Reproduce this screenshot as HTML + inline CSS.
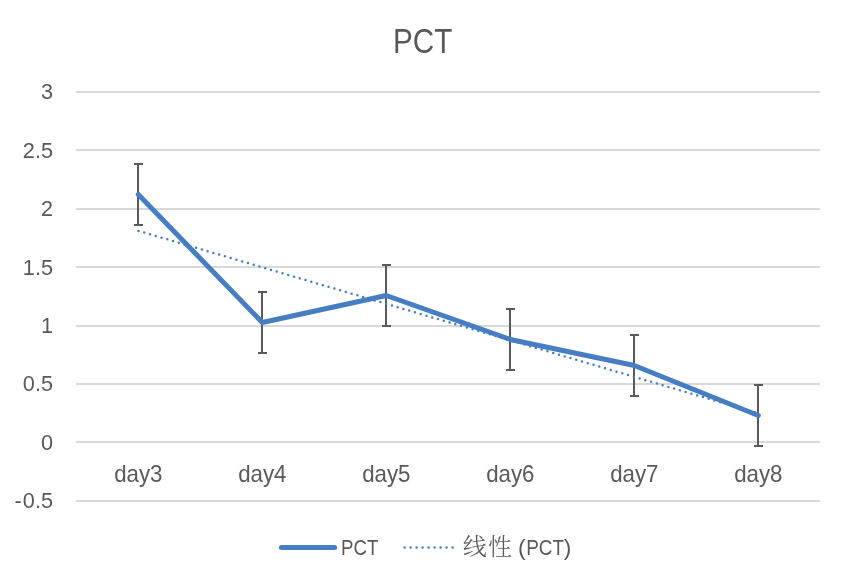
<!DOCTYPE html>
<html lang="zh"><head><meta charset="utf-8"><title>PCT</title>
<style>html,body{margin:0;padding:0;background:#fff}svg{display:block}.t{will-change:transform}text{font-family:"Liberation Sans","Noto Sans CJK SC",sans-serif;fill:#595959}</style></head><body>
<svg class="t" width="843" height="582" viewBox="0 0 843 582">
<rect width="843" height="582" fill="#fff"/>
<g fill="#d9d9d9">
<rect x="76" y="91" width="744" height="2"/>
<rect x="76" y="149" width="744" height="2"/>
<rect x="76" y="208" width="744" height="2"/>
<rect x="76" y="266" width="744" height="2"/>
<rect x="76" y="325" width="744" height="2"/>
<rect x="76" y="383" width="744" height="2"/>
<rect x="76" y="441" width="744" height="2"/>
<rect x="76" y="500" width="744" height="2"/>
</g>
<text x="422.7" y="52.7" font-size="35.7" text-anchor="middle" textLength="59.3" lengthAdjust="spacingAndGlyphs">PCT</text>
<g font-size="22.7" text-anchor="end">
<text transform="translate(53 98.7) scale(0.955 1)">3</text>
<text transform="translate(53 157.6) scale(0.955 1)">2.5</text>
<text transform="translate(53 215.7) scale(0.955 1)">2</text>
<text transform="translate(53 274.6) scale(0.955 1)">1.5</text>
<text transform="translate(53 332.7) scale(0.955 1)">1</text>
<text transform="translate(53 390.8) scale(0.955 1)">0.5</text>
<text transform="translate(53 449.6) scale(0.955 1)">0</text>
<text transform="translate(53 507.8) scale(0.955 1)"><tspan letter-spacing="1.3">-</tspan>0.5</text>
</g>
<g font-size="23.2" text-anchor="middle">
<text x="138.3" y="482" textLength="48.3" lengthAdjust="spacingAndGlyphs">day3</text>
<text x="262.3" y="482" textLength="48.3" lengthAdjust="spacingAndGlyphs">day4</text>
<text x="386.3" y="482" textLength="48.3" lengthAdjust="spacingAndGlyphs">day5</text>
<text x="510.3" y="482" textLength="48.3" lengthAdjust="spacingAndGlyphs">day6</text>
<text x="634.3" y="482" textLength="48.3" lengthAdjust="spacingAndGlyphs">day7</text>
<text x="758.3" y="482" textLength="48.3" lengthAdjust="spacingAndGlyphs">day8</text>
</g>
<g fill="#595959">
<rect x="137" y="163" width="2" height="63"/><rect x="134" y="163" width="9" height="2"/><rect x="134" y="224" width="9" height="2"/>
<rect x="261" y="291" width="2" height="63"/><rect x="258" y="291" width="9" height="2"/><rect x="258" y="352" width="9" height="2"/>
<rect x="385" y="264" width="2" height="63"/><rect x="382" y="264" width="9" height="2"/><rect x="382" y="325" width="9" height="2"/>
<rect x="509" y="308" width="2" height="63"/><rect x="506" y="308" width="9" height="2"/><rect x="506" y="369" width="9" height="2"/>
<rect x="633" y="334" width="2" height="63"/><rect x="630" y="334" width="9" height="2"/><rect x="630" y="395" width="9" height="2"/>
<rect x="757" y="384" width="2" height="63"/><rect x="754" y="384" width="9" height="2"/><rect x="754" y="445" width="9" height="2"/>
</g>
<line x1="138.50" y1="230.88" x2="758.50" y2="413.45" stroke="#477dc2" stroke-width="2.5" stroke-linecap="round" stroke-dasharray="0 6.004" fill="none"/>
<polyline points="138.3,194.5 262.3,322.5 386.3,295.5 510.3,339.5 634.3,365.5 758.3,415.5" fill="none" stroke="#477dc2" stroke-width="5" stroke-linecap="round" stroke-linejoin="round"/>
<line x1="281.4" y1="547.5" x2="334.6" y2="547.5" stroke="#477dc2" stroke-width="5" stroke-linecap="round"/>
<text x="341" y="555.1" font-size="22.8" textLength="37.3" lengthAdjust="spacingAndGlyphs">PCT</text>
<line x1="404.6" y1="547.6" x2="453" y2="547.6" stroke="#477dc2" stroke-width="2.5" stroke-linecap="round" stroke-dasharray="0 6"/>
<text x="462.8" y="554.6" font-size="24" font-weight="300" letter-spacing="1.3" style="font-family:'Liberation Serif','Noto Serif CJK SC',serif">线性</text>
<text y="554.7" font-size="22.8"><tspan x="518">(</tspan><tspan x="526.2" textLength="37.8" lengthAdjust="spacingAndGlyphs">PCT</tspan><tspan x="563.8">)</tspan></text>
</svg></body></html>
